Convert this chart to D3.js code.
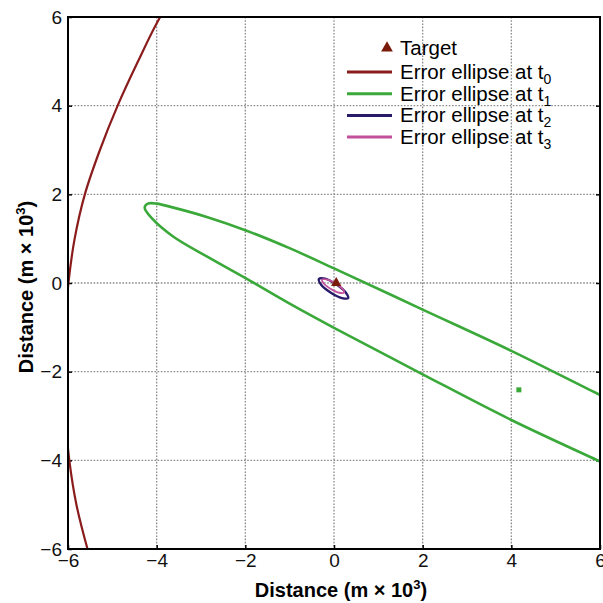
<!DOCTYPE html>
<html>
<head>
<meta charset="utf-8">
<title>Error ellipses</title>
<script src="https://cdn.jsdelivr.net/npm/d3@7"></script>
<style>
  body { margin: 0; background: #fff; }
  svg { display: block; font-family: "Liberation Sans", Arial, Helvetica, sans-serif; }
  .grid line { stroke: #8a8a8a; stroke-width: 1.3; stroke-dasharray: 1.6, 1.6; }
  .axis text { font-size: 19px; fill: #111; }
  .axis line { stroke: #000; stroke-width: 1.5; }
</style>
</head>
<body>
<svg id="chart" width="603" height="603"></svg>
<script>
// axis ticks (m x 10^3)
var tickValues = [-6, -4, -2, 0, 2, 4, 6];

// ellipse outlines, as [x, y] in m x 10^3
// t0: only the left arc is inside the plot
var ellipseT0 = [[-3.45, 6.7], [-3.92, 6.0], [-4.42, 5.0], [-4.88, 4.0], [-5.28, 3.0],
  [-5.62, 2.0], [-5.85, 1.0], [-5.99, 0.0], [-6.07, -1.0], [-6.09, -2.0],
  [-6.06, -3.0], [-5.97, -4.0], [-5.81, -5.0], [-5.56, -6.0], [-5.35, -6.7]];

// t1: upper edge right to left, round the tip, lower edge back to the right
var ellipseT1 = [[6.5, -2.76], [5.99, -2.52], [4.0, -1.53], [2.0, -0.6], [0.0, 0.33],
  [-0.99, 0.78], [-1.97, 1.18], [-2.87, 1.49], [-3.62, 1.7], [-4.0, 1.79],
  [-4.2, 1.79], [-4.27, 1.7], [-4.1, 1.45], [-3.63, 1.05], [-2.87, 0.6],
  [-1.89, 0.05], [-0.99, -0.47], [0.0, -1.01], [2.0, -2.06], [4.0, -3.09],
  [5.99, -4.02], [6.5, -4.25]];
var centreT1 = [4.17, -2.41];

var ellipseT2 = [[0.32, -0.34], [0.26, -0.21], [0.05, -0.03], [-0.2, 0.1],
  [-0.34, 0.09], [-0.29, -0.04], [-0.07, -0.22], [0.18, -0.34]];

var ellipseT3 = [[0.23, -0.21], [0.18, -0.12], [0.02, 0.0], [-0.17, 0.08],
  [-0.27, 0.08], [-0.23, -0.01], [-0.06, -0.14], [0.12, -0.22]];

var target = [0.05, 0.0];

var colors = {t0: "#8a1c1c", t1: "#3aa93a", t2: "#2a1a6a", t3: "#c2509a", target: "#7a1a0c"};

var legendItems = [
  {sub: "0", color: colors.t0},
  {sub: "1", color: colors.t1},
  {sub: "2", color: colors.t2},
  {sub: "3", color: colors.t3}
];

//setup
var svg = d3.select("#chart");
var plotLeft = 68, plotRight = 600, plotTop = 17, plotBottom = 549;

var x = d3.scaleLinear().domain([-6, 6]).range([plotLeft, plotRight]);
var y = d3.scaleLinear().domain([-6, 6]).range([plotBottom, plotTop]);

svg.append("defs").append("clipPath").attr("id", "plot")
  .append("rect").attr("x", plotLeft).attr("y", plotTop)
  .attr("width", plotRight - plotLeft).attr("height", plotBottom - plotTop);

//grid
var inner = tickValues.slice(1, -1);
var grid = svg.append("g").attr("class", "grid");
grid.selectAll(".gx").data(inner).enter().append("line")
  .attr("x1", d => x(d)).attr("x2", d => x(d))
  .attr("y1", plotTop).attr("y2", plotBottom);
grid.selectAll(".gy").data(inner).enter().append("line")
  .attr("y1", d => y(d)).attr("y2", d => y(d))
  .attr("x1", plotLeft).attr("x2", plotRight);

//axes, ticks point inward
svg.append("g").attr("class", "axis")
  .attr("transform", "translate(0," + plotBottom + ")")
  .call(d3.axisBottom(x).tickValues(tickValues).tickSize(-4).tickPadding(5));
svg.append("g").attr("class", "axis")
  .attr("transform", "translate(" + plotLeft + ",0)")
  .call(d3.axisLeft(y).tickValues(tickValues).tickSize(-4).tickPadding(6));
svg.append("g").attr("class", "axis")
  .attr("transform", "translate(" + plotRight + ",0)")
  .call(d3.axisRight(y).tickValues(inner).tickSize(-4).tickFormat(""));
svg.selectAll(".axis .domain").remove();

//curves
var line = d3.line().x(d => x(d[0])).y(d => y(d[1]));
var plot = svg.append("g").attr("clip-path", "url(#plot)");

plot.append("path")
  .attr("d", line.curve(d3.curveCatmullRom)(ellipseT0))
  .attr("fill", "none").attr("stroke", colors.t0).attr("stroke-width", 2.2);

plot.append("path")
  .attr("d", line.curve(d3.curveCatmullRom)(ellipseT1))
  .attr("fill", "none").attr("stroke", colors.t1).attr("stroke-width", 2.6);

plot.append("rect")
  .attr("x", x(centreT1[0]) - 2.5).attr("y", y(centreT1[1]) - 2.5)
  .attr("width", 5).attr("height", 5).attr("fill", colors.t1);

plot.append("path")
  .attr("d", line.curve(d3.curveCatmullRomClosed)(ellipseT2))
  .attr("fill", "none").attr("stroke", colors.t2).attr("stroke-width", 2.4);

plot.append("path")
  .attr("d", line.curve(d3.curveCatmullRomClosed)(ellipseT3))
  .attr("fill", "none").attr("stroke", colors.t3).attr("stroke-width", 1.8);

plot.append("path")
  .attr("d", d3.symbol(d3.symbolTriangle, 46)())
  .attr("transform", "translate(" + x(target[0]) + "," + y(target[1]) + ")")
  .attr("fill", colors.target);

//frame
svg.append("rect")
  .attr("x", plotLeft).attr("y", plotTop)
  .attr("width", plotRight - plotLeft).attr("height", plotBottom - plotTop)
  .attr("fill", "none").attr("stroke", "#000").attr("stroke-width", 2);

//axis titles
function title(g) {
  g.append("tspan").text("Distance (m × 10");
  g.append("tspan").attr("dy", -8).style("font-size", "13px").text("3");
  g.append("tspan").attr("dy", 8).text(")");
}
svg.append("text")
  .attr("x", 341).attr("y", 597)
  .attr("text-anchor", "middle")
  .style("font-size", "20px").style("font-weight", "bold")
  .call(title);
svg.append("text")
  .attr("transform", "translate(33,287) rotate(-90)")
  .attr("text-anchor", "middle")
  .style("font-size", "20px").style("font-weight", "bold")
  .call(title);

//legend
var legend = svg.append("g");
legend.append("path")
  .attr("d", d3.symbol(d3.symbolTriangle, 60)())
  .attr("transform", "translate(387,48)")
  .attr("fill", colors.target);
legend.append("text").attr("x", 400).attr("y", 55)
  .style("font-size", "20.5px").text("Target");

var rows = legend.selectAll(".row").data(legendItems).enter().append("g")
  .attr("transform", (d, i) => "translate(0," + (72 + i * 21.7) + ")");
rows.append("line")
  .attr("x1", 347).attr("x2", 392)
  .attr("stroke", d => d.color).attr("stroke-width", 3);
var lt = rows.append("text").attr("x", 400).attr("y", 7)
  .style("font-size", "20.5px");
lt.append("tspan").text("Error ellipse at t");
lt.append("tspan").attr("dy", 5).style("font-size", "14px").text(d => d.sub);
</script>
</body>
</html>
